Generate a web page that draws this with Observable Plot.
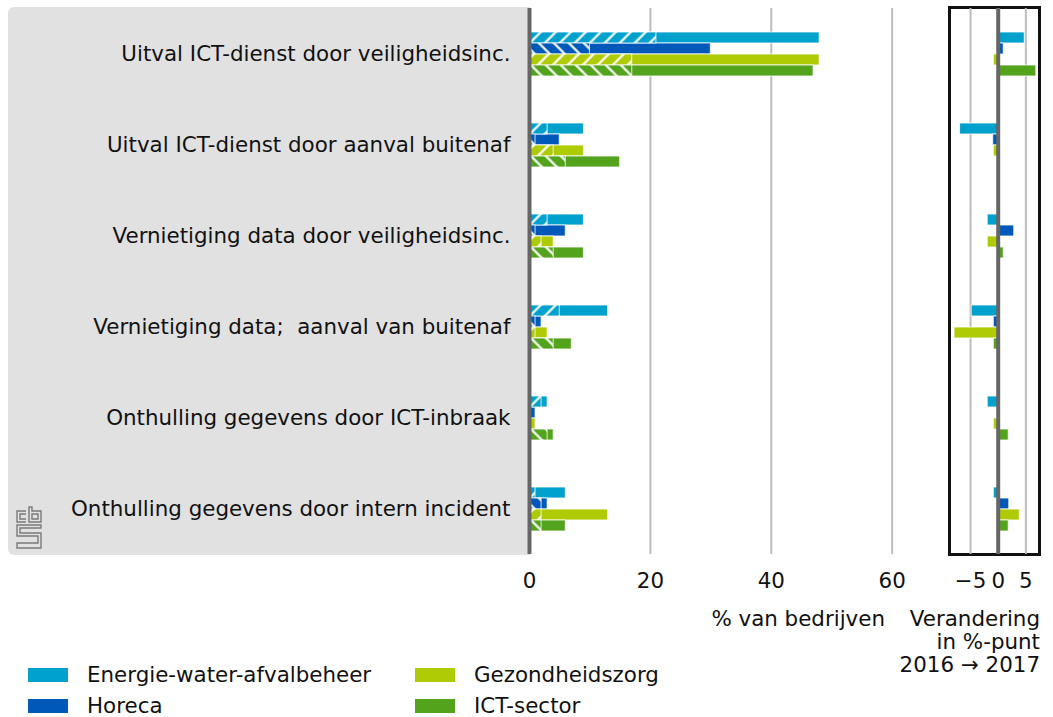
<!DOCTYPE html>
<html><head><meta charset="utf-8">
<script src="https://cdn.jsdelivr.net/npm/d3@7"></script>
<script src="https://cdn.jsdelivr.net/npm/@observablehq/plot@0.6"></script>
<style>
body{margin:0;background:#fff;font-family:"DejaVu Sans",sans-serif;color:#111;}
#wrap{position:relative;width:1053px;height:717px;overflow:hidden;}
#bg{position:absolute;left:8px;top:7px;width:522px;height:548px;background:#e1e1e1;border-radius:6px 0 0 6px;}
#box{position:absolute;left:948px;top:6px;width:93px;height:550px;border:3px solid #111;box-sizing:border-box;}
.abs{position:absolute;}
svg text{white-space:pre;}
.lab{font-size:21.4px;line-height:23px;text-align:right;white-space:pre;}
.leg{position:absolute;font-size:21.4px;line-height:24px;}
.sw{position:absolute;width:40px;height:14px;}
</style>
</head><body>
<div id="wrap">
  <div id="bg"></div>
  <div id="box"></div>
  <div id="c1" class="abs" style="left:0;top:0"></div>
  <div id="c2" class="abs" style="left:940px;top:0"></div>
  <div class="abs lab" style="right:168px;top:607px">% van bedrijven</div>
  <div class="abs lab" style="right:13px;top:607px">Verandering
in %-punt
2016 → 2017</div>
  <div id="legend"></div>
  <svg class="abs" style="left:14px;top:506px" width="30" height="44" viewBox="0 0 30 44">
    <g fill="none" stroke="#7a7a7a" stroke-width="1.4">
      <path d="M12 5 H3 V16 H12 M12 8 H6 V13 H12"/>
      <path d="M15 1 V16 H27 V5 H18 V1 Z M18 8 H24 V13 H18 Z"/>
      <path d="M27 19 H3 V30 H24 V37 H3 V42 H27 V27 H6 V22 H27 Z"/>
    </g>
  </svg>
</div>
<script>
const categories = [
  "Uitval ICT-dienst door veiligheidsinc.",
  "Uitval ICT-dienst door aanval buitenaf",
  "Vernietiging data door veiligheidsinc.",
  "Vernietiging data;  aanval van buitenaf",
  "Onthulling gegevens door ICT-inbraak",
  "Onthulling gegevens door intern incident"
];
const series = ["Energie-water-afvalbeheer", "Horeca", "Gezondheidszorg", "ICT-sector"];
const seriesColors = ["#00a1cd", "#0058b8", "#afcb05", "#53a31d"];

// totaal % van bedrijven (2017)
const energieTotaal = [48, 9, 9, 13, 3, 6];
const horecaTotaal  = [30, 5, 6, 2, 1, 3];
const gezondTotaal  = [48, 9, 4, 3, 1, 13];
const ictTotaal     = [47, 15, 9, 7, 4, 6];
// gearceerd deel
const energieDeel = [21, 3, 3, 5, 2, 1];
const horecaDeel  = [10, 1, 1, 1, 0, 2];
const gezondDeel  = [17, 4, 2, 1, 0, 2];
const ictDeel     = [17, 6, 4, 4, 3, 2];
// verandering in %-punt 2016 -> 2017
const energieVerandering = [4.8, -6.9, -1.9, -4.8, -1.9, -0.8];
const horecaVerandering  = [1, -0.9, 2.9, -0.8, 0, 2];
const gezondVerandering  = [-0.8, -0.8, -1.9, -7.9, -0.8, 3.9];
const ictVerandering     = [6.9, 0, 1, -0.8, 1.9, 1.9];

const xTicksMain = [0, 20, 40, 60];
const xTicksChange = [-5, 0, 5];

const totals = [energieTotaal, horecaTotaal, gezondTotaal, ictTotaal];
const delen = [energieDeel, horecaDeel, gezondDeel, ictDeel];
const changes = [energieVerandering, horecaVerandering, gezondVerandering, ictVerandering];

const rows = categories.flatMap((c, i) => series.map((s, j) => ({
  cat: c, series: s, idx: j, total: totals[j][i], deel: delen[j][i], change: changes[j][i]
})));

const FS = 21.4;
const font = {fontFamily: "DejaVu Sans", fontSize: FS + "px", background: "transparent", overflow: "visible", color: "#111"};
const yOpts = {domain: series, axis: null, paddingInner: 0, paddingOuter: 1.95};
const fyOpts = {domain: categories, padding: 0, label: null};

const main = Plot.plot({
  width: 940, height: 600, marginLeft: 529, marginRight: 0, marginTop: 7, marginBottom: 45,
  style: font,
  x: {domain: [0, 68], axis: null},
  y: yOpts,
  fy: fyOpts,
  color: {type: "identity"},
  marks: [
    Plot.ruleX(xTicksMain.filter(d => d !== 0), {stroke: "#bdbdbd", strokeWidth: 2}),
    Plot.barX(rows, {fy: "cat", y: "series", x: "total", fill: d => seriesColors[d.idx], stroke: "white", strokeWidth: 1, strokeOpacity: 0.8}),
    Plot.barX(rows.filter(d => d.deel > 0), {fy: "cat", y: "series", x: "deel", fill: d => `url(#hatch${d.idx})`, stroke: "white", strokeWidth: 1, strokeOpacity: 0.8}),
    Plot.ruleX([0], {stroke: "#666", strokeWidth: 4}),
    Plot.axisFy({anchor: "left", tickSize: 0, tickPadding: 19, fontSize: FS, label: null}),
    Plot.axisX({ticks: xTicksMain, tickSize: 0, tickPadding: 18, fontSize: FS, label: null})
  ]
});

const defs = d3.select(main).insert("defs", ":first-child");
seriesColors.forEach((c, i) => {
  const w = 10.6;
  const p = defs.append("pattern").attr("id", `hatch${i}`).attr("patternUnits", "userSpaceOnUse")
    .attr("width", w).attr("height", w).attr("patternTransform", `rotate(${i % 2 ? -45 : 45})`);
  p.append("rect").attr("width", w).attr("height", w).attr("fill", c);
  p.append("line").attr("x1", 1.5).attr("x2", 1.5).attr("y1", 0).attr("y2", w).attr("stroke", "white").attr("stroke-width", 2.2);
});
document.getElementById("c1").appendChild(main);

const change = Plot.plot({
  width: 113, height: 600, marginLeft: 11, marginRight: 14.5, marginTop: 7, marginBottom: 45,
  style: font,
  x: {domain: [-8.45, 7.38], axis: null},
  y: yOpts,
  fy: {...fyOpts, axis: null},
  color: {type: "identity"},
  marks: [
    Plot.ruleX(xTicksChange.filter(d => d !== 0), {stroke: "#bdbdbd", strokeWidth: 2}),
    Plot.barX(rows.filter(d => d.change !== 0), {fy: "cat", y: "series", x: "change", fill: d => seriesColors[d.idx], stroke: "white", strokeWidth: 1, strokeOpacity: 0.8}),
    Plot.ruleX([0], {stroke: "#666", strokeWidth: 4}),
    Plot.axisX({ticks: xTicksChange, tickSize: 0, tickPadding: 18, fontSize: FS, label: null})
  ]
});
document.getElementById("c2").appendChild(change);

// legend
const leg = document.getElementById("legend");
const legPos = [[28, 668], [28, 699], [415, 668], [415, 699]];
series.forEach((s, i) => {
  const [x, y] = legPos[i];
  const sw = document.createElement("div");
  sw.className = "sw"; sw.style.left = x + "px"; sw.style.top = y + "px"; sw.style.background = seriesColors[i];
  leg.appendChild(sw);
  const t = document.createElement("div");
  t.className = "leg"; t.style.left = (x + 59) + "px"; t.style.top = (y - 5) + "px"; t.textContent = s;
  leg.appendChild(t);
});
</script>
</body></html>
